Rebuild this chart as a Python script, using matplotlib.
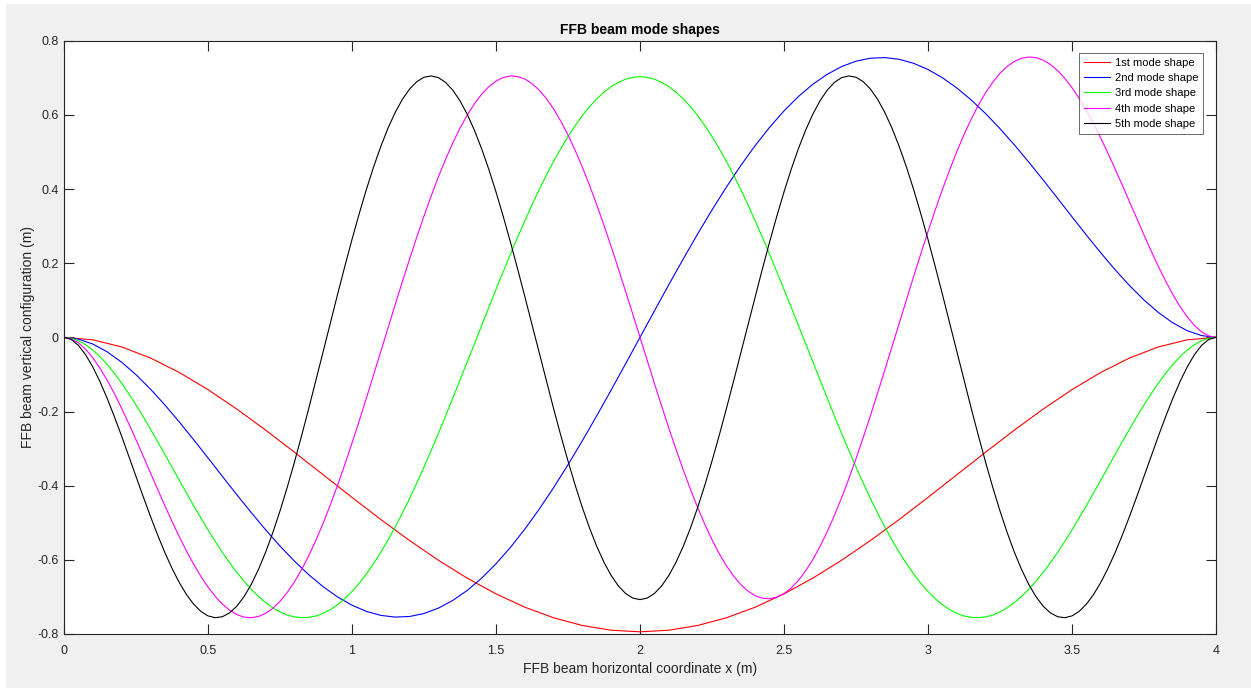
import numpy as np
import matplotlib
matplotlib.use("Agg")
import matplotlib.pyplot as plt
from matplotlib.patches import Rectangle

# sample positions along the beam (m)
x_m1 = np.linspace(0, 4, 41)    # 0.1 m step
x_m2 = np.linspace(0, 4, 81)    # 0.05 m step
x_hi = np.linspace(0, 4, 161)   # 0.025 m step

# mode shape values (m)
mode1 = [0, -0.0067, -0.0258, -0.0556, -0.0946, -0.1410, -0.1934, -0.2501, -0.3097, -0.3706,
         -0.4316, -0.4911, -0.5480, -0.6011, -0.6494, -0.6918, -0.7277, -0.7563, -0.7771, -0.7898,
         -0.7941, -0.7898, -0.7771, -0.7563, -0.7277, -0.6918, -0.6494, -0.6011, -0.5480, -0.4911,
         -0.4316, -0.3706, -0.3097, -0.2501, -0.1934, -0.1410, -0.0946, -0.0556, -0.0258, -0.0067, 0]

mode2 = [0, -0.0047, -0.0180, -0.0391, -0.0670, -0.1007, -0.1394, -0.1821, -0.2279, -0.2758,
         -0.3251, -0.3749, -0.4243, -0.4725, -0.5189, -0.5628, -0.6034, -0.6402, -0.6726, -0.7001,
         -0.7224, -0.7390, -0.7498, -0.7544, -0.7528, -0.7447, -0.7302, -0.7094, -0.6825, -0.6494,
         -0.6107, -0.5665, -0.5173, -0.4634, -0.4053, -0.3435, -0.2786, -0.2112, -0.1419, -0.0713,
         0,
         0.0713, 0.1419, 0.2112, 0.2786, 0.3435, 0.4053, 0.4634, 0.5173, 0.5665, 0.6107,
         0.6494, 0.6825, 0.7094, 0.7302, 0.7447, 0.7528, 0.7544, 0.7498, 0.7390, 0.7224,
         0.7001, 0.6726, 0.6402, 0.6034, 0.5628, 0.5189, 0.4725, 0.4243, 0.3749, 0.3251,
         0.2758, 0.2279, 0.1821, 0.1394, 0.1007, 0.0670, 0.0391, 0.0180, 0.0047, 0]

mode3 = [0, -0.0023, -0.0090, -0.0198, -0.0343, -0.0522, -0.0733, -0.0972, -0.1235, -0.1519,
         -0.1822, -0.2140, -0.2470, -0.2809, -0.3154, -0.3502, -0.3850, -0.4196, -0.4537, -0.4870,
         -0.5193, -0.5503, -0.5799, -0.6078, -0.6338, -0.6577, -0.6793, -0.6985, -0.7151, -0.7291,
         -0.7403, -0.7486, -0.7539, -0.7561, -0.7553, -0.7514, -0.7443, -0.7341, -0.7209, -0.7046,
         -0.6853, -0.6630, -0.6379, -0.6101, -0.5796, -0.5466, -0.5113, -0.4738, -0.4343, -0.3928,
         -0.3496, -0.3050, -0.2591, -0.2120, -0.1641, -0.1155, -0.0665, -0.0173, 0.0319, 0.0808,
         0.1293, 0.1771, 0.2240, 0.2698, 0.3142, 0.3571, 0.3982, 0.4374, 0.4744, 0.5092,
         0.5415, 0.5712, 0.5982, 0.6223, 0.6434, 0.6614, 0.6763, 0.6879, 0.6963, 0.7013,
         0.7030,
         0.7013, 0.6963, 0.6879, 0.6763, 0.6614, 0.6434, 0.6223, 0.5982, 0.5712, 0.5415,
         0.5092, 0.4744, 0.4374, 0.3982, 0.3571, 0.3142, 0.2698, 0.2240, 0.1771, 0.1293,
         0.0808, 0.0319, -0.0173, -0.0665, -0.1155, -0.1641, -0.2120, -0.2591, -0.3050, -0.3496,
         -0.3928, -0.4343, -0.4738, -0.5113, -0.5466, -0.5796, -0.6101, -0.6379, -0.6630, -0.6853,
         -0.7046, -0.7209, -0.7341, -0.7443, -0.7514, -0.7553, -0.7561, -0.7539, -0.7486, -0.7403,
         -0.7291, -0.7151, -0.6985, -0.6793, -0.6577, -0.6338, -0.6078, -0.5799, -0.5503, -0.5193,
         -0.4870, -0.4537, -0.4196, -0.3850, -0.3502, -0.3154, -0.2809, -0.2470, -0.2140, -0.1822,
         -0.1519, -0.1235, -0.0972, -0.0733, -0.0522, -0.0343, -0.0198, -0.0090, -0.0023, 0]

mode4 = [0, -0.0038, -0.0147, -0.0320, -0.0551, -0.0832, -0.1157, -0.1519, -0.1911, -0.2327,
         -0.2760, -0.3203, -0.3651, -0.4098, -0.4537, -0.4963, -0.5372, -0.5758, -0.6116, -0.6442,
         -0.6733, -0.6985, -0.7194, -0.7359, -0.7476, -0.7544, -0.7561, -0.7528, -0.7443, -0.7307,
         -0.7120, -0.6882, -0.6596, -0.6263, -0.5886, -0.5467, -0.5008, -0.4513, -0.3986, -0.3431,
         -0.2852, -0.2253, -0.1638, -0.1012, -0.0380, 0.0253, 0.0883, 0.1504, 0.2113, 0.2704,
         0.3273, 0.3815, 0.4327, 0.4804, 0.5243, 0.5641, 0.5994, 0.6299, 0.6555, 0.6759,
         0.6910, 0.7007, 0.7049, 0.7036, 0.6968, 0.6844, 0.6667, 0.6438, 0.6159, 0.5831,
         0.5457, 0.5041, 0.4586, 0.4095, 0.3571, 0.3019, 0.2444, 0.1850, 0.1241, 0.0623,
         0,
         -0.0623, -0.1241, -0.1850, -0.2444, -0.3019, -0.3571, -0.4095, -0.4586, -0.5041, -0.5457,
         -0.5831, -0.6159, -0.6438, -0.6667, -0.6844, -0.6968, -0.7036, -0.7049, -0.7007, -0.6910,
         -0.6759, -0.6555, -0.6299, -0.5994, -0.5641, -0.5243, -0.4804, -0.4327, -0.3815, -0.3273,
         -0.2704, -0.2113, -0.1504, -0.0883, -0.0253, 0.0380, 0.1012, 0.1638, 0.2253, 0.2852,
         0.3431, 0.3986, 0.4513, 0.5008, 0.5467, 0.5886, 0.6263, 0.6596, 0.6882, 0.7120,
         0.7307, 0.7443, 0.7528, 0.7561, 0.7544, 0.7476, 0.7359, 0.7194, 0.6985, 0.6733,
         0.6442, 0.6116, 0.5758, 0.5372, 0.4963, 0.4537, 0.4098, 0.3651, 0.3203, 0.2760,
         0.2327, 0.1911, 0.1519, 0.1157, 0.0832, 0.0551, 0.0320, 0.0147, 0.0038, 0]

mode5 = [0, -0.0056, -0.0216, -0.0468, -0.0799, -0.1196, -0.1647, -0.2140, -0.2662, -0.3203,
         -0.3751, -0.4294, -0.4823, -0.5328, -0.5799, -0.6229, -0.6609, -0.6933, -0.7194, -0.7389,
         -0.7512, -0.7561, -0.7534, -0.7430, -0.7250, -0.6994, -0.6664, -0.6263, -0.5796, -0.5267,
         -0.4682, -0.4047, -0.3368, -0.2654, -0.1912, -0.1151, -0.0380, 0.0394, 0.1161, 0.1913,
         0.2640, 0.3335, 0.3990, 0.4597, 0.5149, 0.5641, 0.6066, 0.6419, 0.6697, 0.6896,
         0.7014, 0.7050, 0.7004, 0.6875, 0.6666, 0.6379, 0.6017, 0.5585, 0.5088, 0.4531,
         0.3921, 0.3265, 0.2571, 0.1847, 0.1101, 0.0342, -0.0420, -0.1178, -0.1923, -0.2645,
         -0.3336, -0.3988, -0.4594, -0.5147, -0.5640, -0.6067, -0.6423, -0.6705, -0.6908, -0.7031,
         -0.7073,
         -0.7031, -0.6908, -0.6705, -0.6423, -0.6067, -0.5640, -0.5147, -0.4594, -0.3988, -0.3336,
         -0.2645, -0.1923, -0.1178, -0.0420, 0.0342, 0.1101, 0.1847, 0.2571, 0.3265, 0.3921,
         0.4531, 0.5088, 0.5585, 0.6017, 0.6379, 0.6666, 0.6875, 0.7004, 0.7050, 0.7014,
         0.6896, 0.6697, 0.6419, 0.6066, 0.5641, 0.5149, 0.4597, 0.3990, 0.3335, 0.2640,
         0.1913, 0.1161, 0.0394, -0.0380, -0.1151, -0.1912, -0.2654, -0.3368, -0.4047, -0.4682,
         -0.5267, -0.5796, -0.6263, -0.6664, -0.6994, -0.7250, -0.7430, -0.7534, -0.7561, -0.7512,
         -0.7389, -0.7194, -0.6933, -0.6609, -0.6229, -0.5799, -0.5328, -0.4823, -0.4294, -0.3751,
         -0.3203, -0.2662, -0.2140, -0.1647, -0.1196, -0.0799, -0.0468, -0.0216, -0.0056, 0]

labels = ["1st mode shape", "2nd mode shape", "3rd mode shape", "4th mode shape", "5th mode shape"]
colors = ["#ff0000", "#0000ff", "#00ff00", "#ff00ff", "#000000"]

x_ticks = [0, 0.5, 1, 1.5, 2, 2.5, 3, 3.5, 4]
x_ticklabels = ["0", "0.5", "1", "1.5", "2", "2.5", "3", "3.5", "4"]
y_ticks = [-0.8, -0.6, -0.4, -0.2, 0, 0.2, 0.4, 0.6, 0.8]
y_ticklabels = ["-0.8", "-0.6", "-0.4", "-0.2", "0", "0.2", "0.4", "0.6", "0.8"]

plt.rcParams['font.family'] = ['Liberation Sans', 'DejaVu Sans']
axcol = "#262626"

fig = plt.figure(figsize=(12.51, 6.88), dpi=100, facecolor="white")
# grey figure panel (thin white strip top and left, as in the screenshot)
fig.patches.append(Rectangle((6 / 1251, 0), 1 - 6 / 1251, 1 - 4 / 688,
                             transform=fig.transFigure, facecolor="#f0f0f0",
                             edgecolor="none", zorder=-10))

ax = fig.add_axes([64 / 1251, 54 / 688, 1152 / 1251, 593.3 / 688])
ax.set_facecolor("white")

series = [(x_m1, mode1), (x_m2, mode2), (x_hi, mode3), (x_hi, mode4), (x_hi, mode5)]
for (xs, ys), c, lab in zip(series, colors, labels):
    ax.plot(xs, ys, color=c, lw=0.8, label=lab)

ax.set_xlim(0, 4)
ax.set_ylim(-0.8, 0.8)
ax.set_xticks(x_ticks)
ax.set_xticklabels(x_ticklabels)
ax.set_yticks(y_ticks)
ax.set_yticklabels(y_ticklabels)
ax.tick_params(direction="in", length=7, width=0.8, colors=axcol, labelsize=9,
               top=True, right=True)
ax.tick_params(axis="x", pad=8)
ax.tick_params(axis="y", pad=4)
for s in ax.spines.values():
    s.set_color(axcol)
    s.set_linewidth(0.8)

ax.set_title("FFB beam mode shapes", fontsize=10, fontweight="bold", color="black", pad=5)
ax.set_xlabel("FFB beam horizontal coordinate x (m)", fontsize=10, color=axcol, labelpad=3.5)
ax.set_ylabel("FFB beam vertical configuration (m)", fontsize=10, color=axcol, labelpad=1.5)

leg = ax.legend(loc="upper right", bbox_to_anchor=(0.989, 0.98), borderaxespad=0,
                fontsize=8, frameon=True, fancybox=False, handlelength=2.4,
                handletextpad=0.4, labelspacing=0.48, borderpad=0.45)
leg.get_frame().set_edgecolor(axcol)
leg.get_frame().set_linewidth(0.6)

fig.savefig("out.png", dpi=100, facecolor=fig.get_facecolor())
